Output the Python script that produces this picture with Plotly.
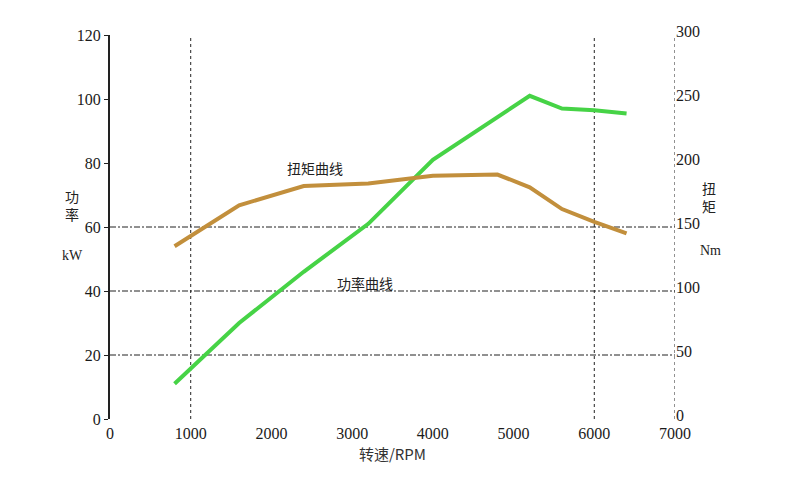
import plotly.graph_objects as go

# ---- data ----
rpm = [800, 1600, 2400, 3200, 4000, 4800, 5200, 5600, 6000, 6400]
power_kw = [11, 30, 46, 61, 81, 94.5, 101, 97, 96.5, 95.5]
torque_nm = [135, 167, 182, 184, 190, 191, 181, 164, 154, 145]

x_ticks = [0, 1000, 2000, 3000, 4000, 5000, 6000, 7000]
left_ticks = [0, 20, 40, 60, 80, 100, 120]
right_ticks = [0, 50, 100, 150, 200, 250, 300]
h_grid = [20, 40, 60]
v_grid = [1000, 6000]

GREEN = "#46d346"
ORANGE = "#c28f3c"
FONT = "Liberation Serif"
CJK = "Noto Sans CJK SC"

fig = go.Figure()
fig.add_trace(go.Scatter(x=rpm, y=power_kw, mode="lines", name="功率曲线",
                         line=dict(color=GREEN, width=4), yaxis="y"))
fig.add_trace(go.Scatter(x=rpm, y=torque_nm, mode="lines", name="扭矩曲线",
                         line=dict(color=ORANGE, width=4), yaxis="y2"))

for v in h_grid:
    fig.add_hline(y=v, line=dict(color="#222", width=1, dash="6px,2px,2px,2px"), layer="below")
for v in v_grid:
    fig.add_vline(x=v, line=dict(color="#222", width=1, dash="dot"), layer="below")
fig.add_vline(x=7000, line=dict(color="#222", width=1, dash="dot"), layer="below")

fig.update_layout(
    width=800, height=498,
    margin=dict(l=102, r=133, t=27, b=87),
    paper_bgcolor="white", plot_bgcolor="white",
    showlegend=False,
    font=dict(family=FONT, size=16, color="#1a1a1a"),
    xaxis=dict(range=[0, 7000], tickvals=x_ticks, showgrid=False, zeroline=False,
               showline=False, ticks="", ticklabelstandoff=3,
               tickfont=dict(family=FONT, size=16, color="#1a1a1a"),
               title=dict(text="转速/RPM", font=dict(family=CJK, size=15, color="#333"), standoff=8)),
    yaxis=dict(range=[0, 120], tickvals=left_ticks, showgrid=False, zeroline=False,
               showline=True, linecolor="#222", linewidth=2, ticks="outside", ticklen=4,
               tickcolor="#222", tickfont=dict(family=FONT, size=16, color="#1a1a1a")),
    yaxis2=dict(range=[0, 300], tickvals=right_ticks, overlaying="y", side="right",
                showgrid=False, zeroline=False, showline=False, ticks="", ticklabelshift=-4,
                tickfont=dict(family=FONT, size=16, color="#1a1a1a")),
)

annotations = [
    dict(text="扭矩曲线", x=2541, y=78.4, xref="x", yref="y"),
    dict(text="功率曲线", x=3161, y=42.5, xref="x", yref="y"),
    dict(text="功<br>率", x=-0.083, y=0.557, xref="paper", yref="paper"),
    dict(text="kW", x=-0.088, y=0.427, xref="paper", yref="paper"),
    dict(text="扭<br>矩", x=1.076, y=0.578, xref="paper", yref="paper"),
    dict(text="Nm", x=1.085, y=0.44, xref="paper", yref="paper"),
]
for a in annotations:
    fam = FONT if a["text"] in ("kW", "Nm") else CJK
    fig.add_annotation(**a, showarrow=False, font=dict(family=fam, size=14, color="#222"))

fig.write_html("out.html")
